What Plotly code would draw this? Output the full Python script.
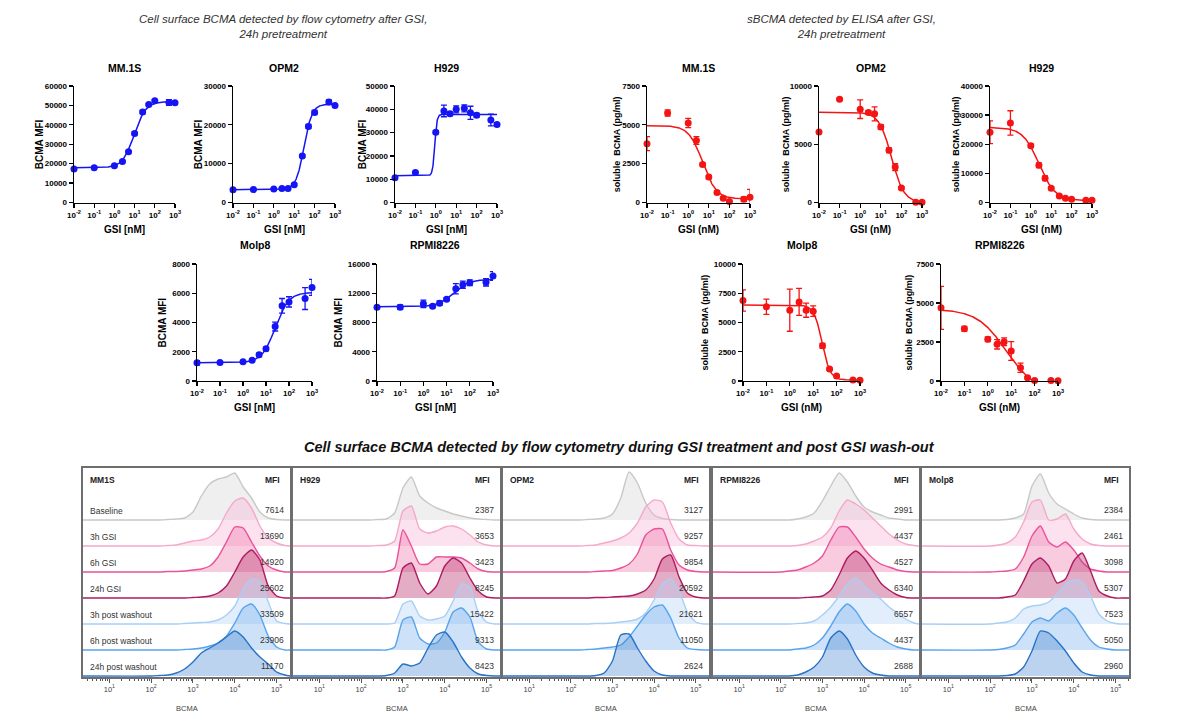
import numpy as np
import plotly.graph_objects as go

W, H = 1184, 721
FONT = "Liberation Sans, Arial, sans-serif"

# ---------------- dose-response data ----------------
DOSE_NM = [0.01, 0.1, 1, 2.5, 5, 10, 25, 50, 100, 500, 1000]
DOSE_TICKS = [0.01, 0.1, 1, 10, 100, 1000]
DOSE_TICKTEXT = ["10<sup>-2</sup>", "10<sup>-1</sup>", "10<sup>0</sup>",
                 "10<sup>1</sup>", "10<sup>2</sup>", "10<sup>3</sup>"]

# Flow cytometry (BCMA MFI)
FLOW_MM1S = [17200, 17900, 18900, 21100, 26100, 35600, 46600, 50500, 52400, 51500, 51400]
FLOW_MM1S_SD = [300, 300, 400, 600, 500, 800, 800, 600, 600, 1500, 800]
FLOW_OPM2 = [3270, 3350, 3500, 3600, 3600, 4600, 12000, 19600, 23200, 25900, 25000]
FLOW_OPM2_SD = [200, 200, 200, 200, 200, 300, 400, 500, 500, 500, 400]
FLOW_H929 = [10600, 12900, 30200, 39300, 38100, 40000, 40400, 38500, 37500, 35400, 33500]
FLOW_H929_SD = [300, 400, 600, 2500, 800, 1500, 1500, 2800, 800, 2500, 800]
FLOW_MOLP8 = [1240, 1260, 1310, 1420, 1790, 2200, 3720, 5140, 5410, 5640, 6400]
FLOW_MOLP8_SD = [150, 60, 60, 80, 120, 120, 300, 500, 350, 750, 550]
FLOW_RPMI = [10090, 10100, 10550, 10230, 10640, 11190, 12610, 13170, 13440, 13490, 14360]
FLOW_RPMI_SD = [200, 300, 500, 200, 300, 200, 700, 500, 400, 500, 600]

# ELISA (soluble BCMA, pg/ml)
ELISA_MM1S = [3790, 5760, 5120, 3990, 2450, 1640, 640, 280, 60, 210, 340]
ELISA_MM1S_SD = [450, 200, 300, 250, 100, 100, 100, 80, 80, 150, 500]
ELISA_OPM2 = [6050, 8860, 8010, 7730, 7610, 6480, 4490, 3040, 1250, 30, 30]
ELISA_OPM2_SD = [100, 100, 800, 150, 600, 200, 200, 300, 100, 50, 50]
ELISA_H929 = [24100, 27300, 19500, 12800, 8300, 4900, 2270, 1480, 1140, 800, 800]
ELISA_H929_SD = [3900, 4200, 600, 800, 800, 500, 300, 200, 200, 200, 200]
ELISA_MOLP8 = [6880, 6340, 6050, 6760, 6050, 5970, 3010, 1020, 430, 90, 60]
ELISA_MOLP8_SD = [900, 650, 1800, 1150, 600, 450, 200, 100, 80, 50, 50]
ELISA_RPMI = [4690, 3350, 2670, 2350, 2520, 1920, 850, 210, 40, 30, 20]
ELISA_RPMI_SD = [1380, 150, 150, 300, 250, 600, 300, 80, 50, 30, 30]

# 4PL fit parameters: [value at low dose, value at high dose, logEC50, hill]
FIT_FLOW_MM1S = [17900, 52000, 0.98, 1.5]
FIT_FLOW_OPM2 = [3300, 25300, 1.48, 2.2]
FIT_FLOW_H929 = [11500, 37800, -0.05, 8.0]
FIT_FLOW_MOLP8 = [1250, 6050, 1.4, 1.5]
FIT_FLOW_RPMI = [10150, 13900, 1.3, 1.3]
FIT_ELISA_MM1S = [4950, 230, 0.7, 1.3]
FIT_ELISA_OPM2 = [7750, 0, 1.52, 1.45]
FIT_ELISA_H929 = [25800, 700, 0.4, 1.1]
FIT_ELISA_MOLP8 = [6500, 80, 1.38, 2.5]
FIT_ELISA_RPMI = [4600, -700, 0.78, 0.7]

# ---------------- histogram data ----------------
ROW_LABELS = ["Baseline", "3h GSI", "6h GSI", "24h GSI",
              "3h post washout", "6h post washout", "24h post washout"]
LOG_BCMA = [2.0, 2.2, 2.4, 2.6, 2.8, 3.0, 3.2, 3.4, 3.6, 3.8,
            4.0, 4.2, 4.4, 4.6, 4.8, 5.0, 5.2]

HIST_MM1S = [
    [0, 0, 0.5, 1, 2, 8, 24, 36, 41, 43, 47, 33, 22, 8, 2, 0.5, 0],
    [0, 0, 0.5, 1, 3, 5, 6, 9, 17, 33, 45, 48, 38, 20, 8, 3, 0.5],
    [0, 0, 0.5, 0.5, 1, 2, 3, 6, 15, 30, 45, 44, 30, 16, 6, 2, 0],
    [0, 0, 0, 0, 0, 0.5, 1, 2, 5, 12, 26, 41, 48, 38, 12, 2, 0],
    [0, 0, 0, 0, 0.5, 1, 1.5, 2, 4, 9, 18, 35, 45, 43, 22, 3, 0.5],
    [0, 0, 0, 0, 0.5, 1, 2, 4, 7, 14, 27, 42, 46, 35, 14, 3, 0],
    [0, 0.5, 1, 3, 7, 14, 23, 28, 33, 39, 45, 39, 28, 19, 12, 4, 1],
]
HIST_H929 = [
    [0, 0, 0.5, 1, 7, 32, 43, 24, 17, 12, 9, 6, 4, 2, 1, 0.5, 0],
    [0, 0, 0.5, 1, 5, 35, 40, 17, 13, 15, 19, 20, 17, 11, 4, 1, 0],
    [0, 0, 0, 0.5, 4, 42, 26, 8, 8, 15, 15, 15, 14, 9, 3, 0.5, 0],
    [0, 0, 0, 0, 2, 30, 35, 15, 4, 12, 32, 40, 35, 20, 7, 1, 0],
    [0, 0, 0, 0, 1, 20, 23, 8, 4, 5, 8, 23, 40, 37, 12, 2, 0],
    [0, 0, 0, 0, 3, 30, 33, 12, 6, 7, 18, 38, 42, 33, 8, 1, 0],
    [0, 0, 0, 0.5, 3, 12, 10, 13, 28, 41, 44, 34, 19, 8, 2, 0.5, 0],
]
HIST_OPM2 = [
    [0, 0, 0.5, 1, 2, 6, 22, 48, 37, 17, 5, 1.5, 0.5, 0, 0, 0, 0],
    [0, 0, 0.5, 1, 3, 5, 8, 13, 23, 39, 46, 44, 23, 7, 1, 0.5, 0],
    [0, 0, 0, 0.5, 1, 1.5, 4, 8, 18, 37, 43, 43, 22, 7, 2, 0.5, 0],
    [0, 0, 0, 0.5, 0.5, 1, 1.5, 2, 4, 8, 19, 39, 43, 21, 5, 1, 0],
    [0, 0, 0, 0.5, 0.5, 1, 2, 3, 5, 11, 24, 40, 45, 33, 12, 2, 0],
    [0, 0, 0.5, 1, 2, 3, 5, 13, 24, 35, 43, 45, 32, 12, 2, 0.5, 0],
    [0, 0, 0, 0.5, 3, 15, 41, 42, 28, 15, 5, 1, 0, 0, 0, 0, 0],
]
HIST_RPMI = [
    [0, 0, 1, 3, 7, 19, 34, 47, 38, 24, 13, 8, 5, 2, 1, 0, 0],
    [0, 0, 0.5, 2, 5, 9, 18, 35, 46, 42, 36, 28, 20, 12, 6, 2, 0.5],
    [0, 1, 2, 5, 9, 16, 32, 45, 45, 35, 23, 14, 8, 5, 2, 0.5, 0],
    [0, 0, 0, 0.5, 1, 2, 8, 23, 40, 47, 40, 28, 15, 8, 3, 0.5, 0],
    [0, 0, 0.5, 1, 3, 9, 17, 28, 40, 46, 38, 31, 25, 17, 11, 5, 1],
    [0, 0, 1, 2, 5, 12, 24, 38, 46, 39, 26, 17, 12, 7, 3, 1, 0],
    [0, 0, 1, 4, 9, 19, 38, 45, 37, 21, 9, 3, 1, 0, 0, 0, 0],
]
HIST_MOLP8 = [
    [0, 0, 0.5, 2, 6, 34, 46, 27, 16, 11, 6, 2, 0.5, 0, 0, 0, 0],
    [0, 1, 3, 9, 24, 44, 46, 26, 27, 32, 17, 7, 2, 0.5, 0, 0, 0],
    [0, 0.5, 1, 3, 15, 36, 46, 30, 25, 30, 22, 10, 3, 1, 0, 0, 0],
    [0, 0, 1, 3, 17, 34, 40, 32, 15, 19, 37, 45, 27, 7, 2, 0, 0],
    [0, 1, 2, 6, 15, 18, 19, 22, 30, 40, 44, 42, 28, 10, 3, 0.5, 0],
    [0, 0.5, 2, 5, 16, 28, 32, 29, 37, 42, 35, 22, 10, 3, 1, 0, 0],
    [0, 0, 0.5, 2, 9, 25, 45, 43, 35, 25, 13, 4, 1, 0, 0, 0, 0],
]

MFI_MM1S = [7614, 13690, 14920, 25602, 33509, 23906, 11170]
MFI_H929 = [2387, 3653, 3423, 8245, 15422, 9313, 8423]
MFI_OPM2 = [3127, 9257, 9854, 20592, 21621, 11050, 2624]
MFI_RPMI = [2991, 4437, 4527, 6340, 6557, 4437, 2688]
MFI_MOLP8 = [2384, 2461, 3098, 5307, 7523, 5050, 2960]

ROW_LINE = ["#c8c8c8", "#f5a8ca", "#e9529a", "#ad1c60", "#a8cff4", "#58a4ec", "#2a72c6"]
ROW_FILL = ["rgba(215,215,215,0.40)", "rgba(246,180,210,0.38)", "rgba(236,110,165,0.36)",
            "rgba(190,60,120,0.42)", "rgba(180,210,245,0.38)", "rgba(100,165,235,0.32)",
            "rgba(60,130,205,0.35)"]

# ---------------- figure construction ----------------
fig = go.Figure()
layout = {}
annotations = []
counter = [0]


def new_axes():
    counter[0] += 1
    i = counter[0]
    s = "" if i == 1 else str(i)
    return "x" + s, "y" + s, "xaxis" + s, "yaxis" + s


def ann(text, x, y, size, color="black", xanchor="center", yanchor="middle", angle=0):
    annotations.append(dict(text=text, x=x / W, y=1 - y / H, xref="paper", yref="paper",
                            showarrow=False, textangle=angle, xanchor=xanchor, yanchor=yanchor,
                            font=dict(family=FONT, size=size, color=color)))


def dose_panel(x0, x1, ytop, ybot, vals, sd, fit, ymax, ystep, color, title, ytitle,
               ytitle_x, ytitle_size, xtitle, xtitle_y, title_y):
    xn, yn, xk, yk = new_axes()
    tf = dict(family=FONT, size=8, color="black", weight="bold")
    yt = list(range(0, ymax + 1, ystep))
    layout[xk] = dict(domain=[x0 / W, x1 / W], anchor=yn, type="log", range=[-2, 3],
                      tickmode="array", tickvals=DOSE_TICKS, ticktext=DOSE_TICKTEXT,
                      ticks="outside", ticklen=4, tickwidth=1.3, tickcolor="black",
                      showline=True, linecolor="black", linewidth=1.4, automargin=False,
                      showgrid=False, zeroline=False, tickfont=tf, fixedrange=True)
    layout[yk] = dict(domain=[1 - ybot / H, 1 - ytop / H], anchor=xn, range=[0, ymax],
                      tickmode="array", tickvals=yt, ticktext=[str(v) for v in yt],
                      ticks="outside", ticklen=4, tickwidth=1.3, tickcolor="black",
                      showline=True, linecolor="black", linewidth=1.4, automargin=False,
                      showgrid=False, zeroline=False, tickfont=tf, fixedrange=True)
    lx = np.linspace(-2, 3, 400)
    a, b, c, h = fit
    yfit = a + (b - a) / (1 + 10 ** ((c - lx) * h))
    fig.add_trace(go.Scatter(x=10 ** lx, y=yfit, mode="lines", line=dict(color=color, width=1.5),
                             xaxis=xn, yaxis=yn, hoverinfo="skip", showlegend=False))
    fig.add_trace(go.Scatter(x=DOSE_NM, y=vals, mode="markers",
                             marker=dict(color=color, size=7),
                             error_y=dict(type="data", array=sd, color=color, thickness=1.3, width=3),
                             cliponaxis=False, xaxis=xn, yaxis=yn, showlegend=False))
    cx = (x0 + x1) / 2
    ann("<b>%s</b>" % title, cx, title_y, 10.5)
    ann("<b>%s</b>" % xtitle, cx, xtitle_y, 10)
    ann("<b>%s</b>" % ytitle, ytitle_x, (ytop + ybot) / 2, ytitle_size, angle=-90)


BLUE = "#1414f5"
RED = "#f51414"

# top-left: flow
TOP_T, TOP_B = 86, 202.5
MID_T, MID_B = 264, 381
dose_panel(74, 175, TOP_T, TOP_B, FLOW_MM1S, FLOW_MM1S_SD, FIT_FLOW_MM1S, 60000, 10000, BLUE,
           "MM.1S", "BCMA MFI", 39, 10, "GSI [nM]", 229, 68)
dose_panel(233, 335, TOP_T, TOP_B, FLOW_OPM2, FLOW_OPM2_SD, FIT_FLOW_OPM2, 30000, 10000, BLUE,
           "OPM2", "BCMA MFI", 198, 10, "GSI [nM]", 229, 68)
dose_panel(395, 497, TOP_T, TOP_B, FLOW_H929, FLOW_H929_SD, FIT_FLOW_H929, 50000, 10000, BLUE,
           "H929", "BCMA MFI", 362, 10, "GSI [nM]", 229, 68)
dose_panel(197, 312, MID_T, MID_B, FLOW_MOLP8, FLOW_MOLP8_SD, FIT_FLOW_MOLP8, 8000, 2000, BLUE,
           "Molp8", "BCMA MFI", 162, 10, "GSI [nM]", 407, 245)
dose_panel(377, 493, MID_T, MID_B, FLOW_RPMI, FLOW_RPMI_SD, FIT_FLOW_RPMI, 16000, 4000, BLUE,
           "RPMI8226", "BCMA MFI", 338, 10, "GSI [nM]", 407, 245)
# right: ELISA
SB = "soluble  BCMA (pg/ml)"
dose_panel(647, 750, TOP_T, TOP_B, ELISA_MM1S, ELISA_MM1S_SD, FIT_ELISA_MM1S, 7500, 2500, RED,
           "MM.1S", SB, 617, 9, "GSI (nM)", 229, 68)
dose_panel(819, 922, TOP_T, TOP_B, ELISA_OPM2, ELISA_OPM2_SD, FIT_ELISA_OPM2, 10000, 5000, RED,
           "OPM2", SB, 786, 9, "GSI (nM)", 229, 68)
dose_panel(990, 1092, TOP_T, TOP_B, ELISA_H929, ELISA_H929_SD, FIT_ELISA_H929, 40000, 10000, RED,
           "H929", SB, 956, 9, "GSI (nM)", 229, 68)
dose_panel(743, 860, MID_T, MID_B, ELISA_MOLP8, ELISA_MOLP8_SD, FIT_ELISA_MOLP8, 10000, 2500, RED,
           "Molp8", SB, 704, 9, "GSI (nM)", 407, 245)
dose_panel(941, 1058, MID_T, MID_B, ELISA_RPMI, ELISA_RPMI_SD, FIT_ELISA_RPMI, 7500, 2500, RED,
           "RPMI8226", SB, 908, 9, "GSI (nM)", 407, 245)

# ---------------- histogram panels ----------------
HX_MIN, HX_MAX = 0.37, 5.32
HIST_TOP, HIST_BOT = 468, 677
ROW_STEP = 26
MINOR_VALS = [k * 10 ** n for n in range(0, 6) for k in range(2, 10)
              if 10 ** HX_MIN <= k * 10 ** n <= 10 ** HX_MAX]


def hist_panel(x0, x1, rows, name, mfi, show_labels):
    xn, yn, xk, yk = new_axes()
    layout[xk] = dict(domain=[x0 / W, x1 / W], anchor=yn, type="log", range=[HX_MIN, HX_MAX],
                      tickmode="array", tickvals=[10, 100, 1000, 10000, 100000],
                      ticktext=["10<sup>1</sup>", "10<sup>2</sup>", "10<sup>3</sup>",
                                "10<sup>4</sup>", "10<sup>5</sup>"],
                      ticks="outside", ticklen=4, tickwidth=1, tickcolor="#555",
                      minor=dict(tickmode="array", tickvals=MINOR_VALS, ticks="outside",
                                 ticklen=2.5, tickwidth=1, tickcolor="#555", showgrid=False),
                      showline=True, mirror=True, linecolor="#6e6e6e", linewidth=1.6,
                      showgrid=False, zeroline=False, fixedrange=True, automargin=False,
                      tickfont=dict(family=FONT, size=7.5, color="#444"))
    layout[yk] = dict(domain=[1 - HIST_BOT / H, 1 - HIST_TOP / H], anchor=xn,
                      range=[-1, HIST_BOT - HIST_TOP - 1], showline=True, mirror=True,
                      linecolor="#6e6e6e", linewidth=1.6, showticklabels=False, ticks="",
                      showgrid=False, zeroline=False, fixedrange=True, automargin=False)
    n = len(rows)
    for k, hvals in enumerate(rows):
        base = (n - 1 - k) * ROW_STEP
        xs = [10 ** HX_MIN] + [10 ** g for g in LOG_BCMA] + [10 ** HX_MAX]
        ys = [base] + [base + v for v in hvals] + [base]
        fig.add_trace(go.Scatter(x=[10 ** HX_MIN, 10 ** HX_MAX], y=[base, base], mode="lines",
                                 line=dict(width=0, color="rgba(0,0,0,0)"), xaxis=xn, yaxis=yn,
                                 hoverinfo="skip", showlegend=False))
        fig.add_trace(go.Scatter(x=xs, y=ys, mode="lines",
                                 line=dict(color=ROW_LINE[k], width=1.4, shape="spline", smoothing=0.6),
                                 fill="tonexty", fillcolor=ROW_FILL[k], xaxis=xn, yaxis=yn,
                                 hoverinfo="skip", showlegend=False))
        base_px = HIST_BOT - 1 - base
        ann(str(mfi[k]), x1 - 4, base_px - 10, 8.5, color="#333", xanchor="right")
        if show_labels:
            ann(ROW_LABELS[k], x0 + 5, base_px - 9, 8.5, color="#333", xanchor="left")
    ann("<b>%s</b>" % name, x0 + 5, 480, 8.5, color="#222", xanchor="left")
    ann("<b>MFI</b>", x1 - 8, 480, 8.5, color="#222", xanchor="right")
    ann("BCMA", (x0 + x1) / 2, 708, 7.5, color="#444")


hist_panel(83, 290, HIST_MM1S, "MM1S", MFI_MM1S, True)
hist_panel(293, 500, HIST_H929, "H929", MFI_H929, False)
hist_panel(503, 709, HIST_OPM2, "OPM2", MFI_OPM2, False)
hist_panel(713, 919, HIST_RPMI, "RPMI8226", MFI_RPMI, False)
hist_panel(922, 1129, HIST_MOLP8, "Molp8", MFI_MOLP8, False)

# ---------------- section titles ----------------
ann("<i>Cell surface BCMA detected by flow cytometry after GSI,<br>24h pretreatment</i>",
    283, 27, 11.5, color="#333")
ann("<i>sBCMA detected by ELISA after GSI,<br>24h pretreatment</i>", 841, 27, 11.5, color="#333")
ann("<b><i>Cell surface BCMA detected by flow cytometry during GSI treatment and post GSI wash-out</i></b>",
    619, 447, 14.5, color="#111")

layout.update(dict(width=W, height=H,
                   margin=dict(l=0, r=0, t=0, b=0, pad=0, autoexpand=False),
                   paper_bgcolor="white", plot_bgcolor="white", showlegend=False,
                   hovermode=False, font=dict(family=FONT), annotations=annotations))
fig.update_layout(**layout)
fig.write_html("out.html", config={"displayModeBar": False, "staticPlot": True},
               post_script="document.body.style.margin='0px';document.body.style.overflow='hidden';")
